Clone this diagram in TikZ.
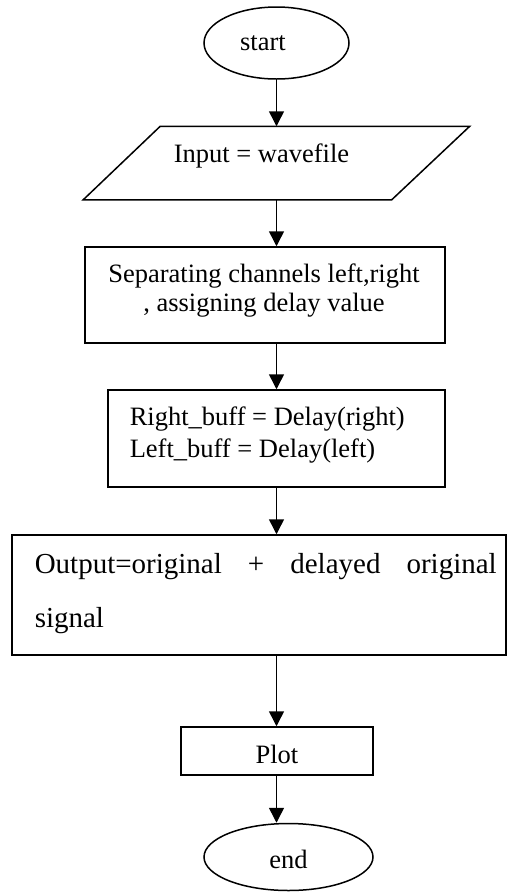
\documentclass[tikz,border=0pt]{standalone}
\usepackage{fontspec}
\setmainfont{Liberation Serif}
\usetikzlibrary{arrows.meta,shapes.geometric}
\begin{document}
\begin{tikzpicture}[x=1pt,y=-1pt,
  line width=1.5pt,
  arr/.style={-{Triangle[length=15pt,width=15pt]}},
  term/.style={draw,ellipse,inner sep=0pt},
  procbox/.style={draw,rectangle,inner sep=0pt},
  ghost/.style={rectangle,inner sep=0pt},
  txt/.style={inner sep=0pt,anchor=base,font=\fontsize{26.5}{30}\selectfont},
  txtl/.style={txt,anchor=base west},
  bigtxt/.style={inner sep=0pt,anchor=base west,font=\fontsize{29}{30}\selectfont}]
\useasboundingbox (0,0) rectangle (507,892);

% shapes
\node[term,minimum width=145pt,minimum height=72pt] (start) at (276.5,43) {};
\node[ghost,minimum width=385pt,minimum height=72pt] (inp) at (276.5,163) {};
\draw (inp.south west) -- ([xshift=77pt]inp.north west) -- (inp.north east)
      -- ([xshift=-78pt]inp.south east) -- cycle;
\node[procbox,minimum width=360pt,minimum height=96pt] (sep) at (265,295) {};
\node[procbox,minimum width=337pt,minimum height=97pt] (buf) at (276.5,438.5) {};
\node[procbox,minimum width=494pt,minimum height=120pt] (out) at (259,595) {};
\node[procbox,minimum width=192pt,minimum height=48pt] (plot) at (277,751) {};
\node[term,minimum width=169pt,minimum height=67pt] (stop) at (288.5,857) {};

% texts
\node[txt] (tstart) at (263,50) {start};
\node[txt] (tinp) at (261.5,162) {Input = wavefile};
\node[txt] (tsepa) at (264,282) {Separating channels left,right};
\node[txt] (tsepb) at (264,311) {, assigning delay value};
\node[txtl] (tbufa) at (129,425) {Right\_buff = Delay(right)};
\node[txtl] (tbufb) at (129,457) {Left\_buff = Delay(left)};
\node[bigtxt] (touta) at (34,573) {\makebox[462pt][s]{Output=original \ + \ delayed \ original}};
\node[bigtxt] (toutb) at (34,627) {signal};
\node[txt] (tplot) at (277,763) {Plot};
\node[txt] (tstop) at (288.5,868) {end};

% connectors
\draw[arr] (start.south) -- (start.south |- inp.north);
\draw[arr] (start.south |- inp.south) -- (start.south |- sep.north);
\draw[arr] (start.south |- sep.south) -- (start.south |- buf.north);
\draw[arr] (start.south |- buf.south) -- (start.south |- out.north);
\draw[arr] (start.south |- out.south) -- (start.south |- plot.north);
\draw[arr] (start.south |- plot.south) -- (start.south |- stop.north);
\end{tikzpicture}
\end{document}
